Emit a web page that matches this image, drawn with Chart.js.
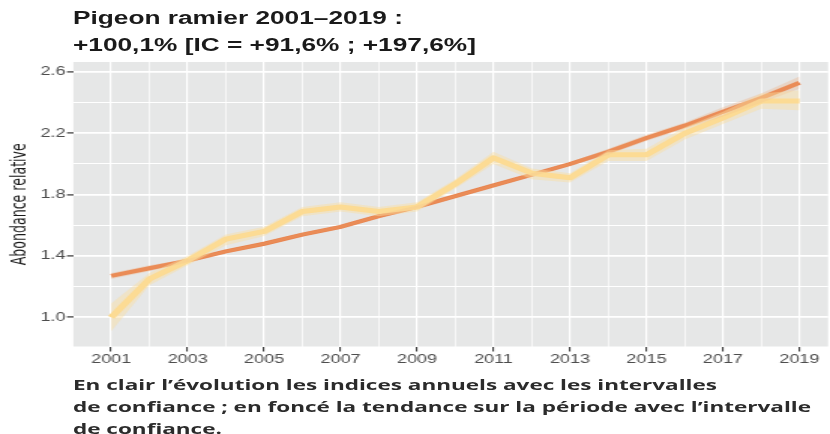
<!DOCTYPE html>
<html>
<head>
<meta charset="utf-8">
<script src="https://cdn.jsdelivr.net/npm/chart.js@4"></script>
<style>
  html, body { margin: 0; padding: 0; background: #fff; overflow: hidden; }
  /* the reference is stretched horizontally: draw at 553px wide and scale to 830px */
  #wrap {
    position: relative; width: 553px; height: 434px;
    transform: scaleX(1.5009); transform-origin: 0 0;
  }
  #title {
    position: absolute; left: 48.6px; top: 5px;
    font-family: "Liberation Sans", Arial, sans-serif; font-size: 17.5px; font-weight: 600;
    line-height: 27px; color: #1a1a1a; white-space: nowrap;
  }
  #caption {
    position: absolute; left: 48.6px; top: 373px;
    font-family: "Open Sans", "Lato", sans-serif; font-size: 15px; font-weight: 700;
    line-height: 22px; color: #2b2b2b; white-space: nowrap;
  }
  canvas { position: absolute; left: 0; top: 0; }
</style>
</head>
<body>
<div id="wrap">
  <canvas id="chart" width="553" height="434"></canvas>
  <div id="title">Pigeon ramier 2001–2019 :<br>+100,1% [IC = +91,6% ; +197,6%]</div>
  <div id="caption">En clair l’évolution les indices annuels avec les intervalles<br>de confiance ; en foncé la tendance sur la période avec l’intervalle<br>de confiance.</div>
</div>
<script>
// Indices annuels (clair) et tendance (foncé)
const years = [2001, 2002, 2003, 2004, 2005, 2006, 2007, 2008, 2009, 2010,
               2011, 2012, 2013, 2014, 2015, 2016, 2017, 2018, 2019];
const indices = [1.00, 1.25, 1.37, 1.51, 1.56, 1.69, 1.72, 1.69, 1.72, 1.87,
                 2.04, 1.94, 1.91, 2.06, 2.06, 2.20, 2.30, 2.41, 2.41];
const indicesLow = [0.91, 1.21, 1.34, 1.47, 1.53, 1.66, 1.69, 1.66, 1.69, 1.84,
                    2.00, 1.90, 1.88, 2.02, 2.02, 2.16, 2.26, 2.36, 2.35];
const indicesHigh = [1.09, 1.29, 1.40, 1.54, 1.59, 1.72, 1.75, 1.72, 1.75, 1.90,
                     2.08, 1.97, 1.94, 2.09, 2.10, 2.24, 2.34, 2.46, 2.48];
const trend = [1.27, 1.32, 1.37, 1.43, 1.48, 1.54, 1.59, 1.66, 1.72, 1.79,
               1.86, 1.93, 2.00, 2.08, 2.17, 2.25, 2.34, 2.43, 2.53];
const trendLow = [1.25, 1.30, 1.36, 1.42, 1.47, 1.53, 1.58, 1.65, 1.71, 1.78,
                  1.85, 1.92, 1.99, 2.06, 2.15, 2.23, 2.31, 2.40, 2.49];
const trendHigh = [1.29, 1.34, 1.38, 1.44, 1.49, 1.55, 1.60, 1.67, 1.73, 1.80,
                   1.87, 1.94, 2.01, 2.10, 2.19, 2.27, 2.37, 2.46, 2.57];
const xTicks = [2000, 2001, 2002, 2003, 2004, 2005, 2006, 2007, 2008, 2009, 2010,
                2011, 2012, 2013, 2014, 2015, 2016, 2017, 2018, 2019];
const yTicks = [1.0, 1.2, 1.4, 1.6, 1.8, 2.0, 2.2, 2.4, 2.6];
const yLabels = [1.0, 1.4, 1.8, 2.2, 2.6];

const pts = arr => years.map((y, i) => ({ x: y, y: arr[i] }));
const isMajorX = v => v % 2 === 1;
const isMajorY = v => yLabels.some(l => Math.abs(l - v) < 1e-6);
const tickFont = { family: "'Liberation Sans', Arial, sans-serif", size: 12 };

const panelBg = {
  id: "panelBg",
  beforeDraw(chart) {
    const a = chart.chartArea, ctx = chart.ctx;
    ctx.save();
    ctx.fillStyle = "#e6e7e7";
    ctx.fillRect(a.left, a.top, a.right - a.left, a.bottom - a.top);
    ctx.restore();
  }
};

const chart = new Chart(document.getElementById("chart"), {
  type: "line",
  data: {
    datasets: [
      { data: pts(indicesLow), borderWidth: 0, pointRadius: 0, fill: false },
      { data: pts(indicesHigh), borderWidth: 0, pointRadius: 0, fill: "-1",
        backgroundColor: "rgba(250, 222, 160, 0.45)" },
      { data: pts(trendLow), borderWidth: 0, pointRadius: 0, fill: false },
      { data: pts(trendHigh), borderWidth: 0, pointRadius: 0, fill: "-1",
        backgroundColor: "rgba(240, 170, 120, 0.3)" },
      { data: pts(indices), borderColor: "#fdd98b", borderWidth: 5, pointRadius: 0,
        fill: false, borderJoinStyle: "round" },
      { data: pts(trend), borderColor: "#e8804a", borderWidth: 4, pointRadius: 0,
        fill: false },
    ],
  },
  options: {
    responsive: false,
    animation: false,
    devicePixelRatio: 1,
    layout: { padding: { top: 62, right: 1.3, left: 0, bottom: 0 } },
    plugins: { legend: { display: false }, tooltip: { enabled: false } },
    scales: {
      x: {
        type: "linear",
        min: 2000.0,
        max: 2019.75,
        afterBuildTicks: s => { s.ticks = xTicks.map(v => ({ value: v })); },
        afterFit: s => { s.height = 87.5; },
        border: { display: false },
        grid: {
          color: "#ffffff",
          lineWidth: c => isMajorX(c.tick.value) ? 1.2 : 0.7,
          tickColor: c => isMajorX(c.tick.value) ? "#333333" : "rgba(0,0,0,0)",
          tickLength: 5,
          tickWidth: 1,
        },
        ticks: {
          autoSkip: false,
          maxRotation: 0,
          padding: 1,
          color: "#4d4d4d",
          font: tickFont,
          callback: v => isMajorX(v) ? String(v) : "",
        },
      },
      y: {
        min: 0.81,
        max: 2.665,
        afterBuildTicks: s => { s.ticks = yTicks.map(v => ({ value: v })); },
        afterFit: s => { s.width = 48.6; },
        border: { display: false },
        grid: {
          color: "#ffffff",
          lineWidth: c => isMajorY(c.tick.value) ? 1.8 : 1.0,
          tickColor: c => isMajorY(c.tick.value) ? "#333333" : "rgba(0,0,0,0)",
          tickLength: 4,
          tickWidth: 1.2,
        },
        ticks: {
          padding: 1,
          color: "#4d4d4d",
          font: tickFont,
          callback: v => isMajorY(v) ? v.toFixed(1) : "",
        },
        title: {
          display: true,
          text: "Abondance relative",
          color: "#1a1a1a",
          padding: { top: 5, bottom: 0 },
          font: { family: "'Liberation Sans Narrow', 'DejaVu Sans Condensed', sans-serif", size: 14 },
        },
      },
    },
  },
  plugins: [panelBg],
});
</script>
</body>
</html>
